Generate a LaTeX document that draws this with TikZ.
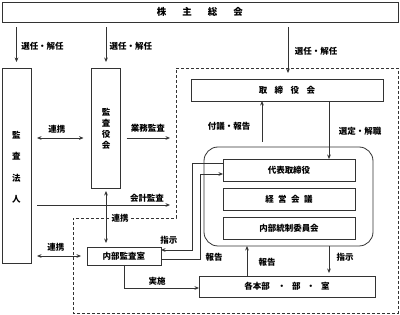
\documentclass[tikz,border=0pt]{standalone}
\usepackage{fontspec}
\setmainfont{Noto Sans CJK JP}
\usetikzlibrary{arrows.meta}
\definecolor{linec}{HTML}{333333}
\begin{document}
\begin{tikzpicture}[x=1pt,y=-1pt,
  font=\fontsize{8.5}{10}\selectfont\bfseries,
  every node/.style={inner sep=0pt, outer sep=0pt},
  box/.style={draw=linec, line width=0.8pt, fill=white},
  lbl/.style={text=black},
  arr/.style={draw=linec, line width=0.8pt, -{Stealth[length=4.5pt,width=3.8pt]}},
  dblarr/.style={draw=linec, line width=0.8pt, {Stealth[length=4.5pt,width=3.8pt]}-{Stealth[length=4.5pt,width=3.8pt]}},
  plain/.style={draw=linec, line width=0.8pt},
  dashbox/.style={draw=linec, line width=0.7pt, dash pattern=on 3pt off 2pt}]
\useasboundingbox (0,0) rectangle (400,315);

% dashed region
\draw[dashbox] (176,68) -- (398,68) -- (398,313) -- (73,313) -- (73,218) -- (176,218) -- cycle;

% boxes
\node[box, minimum width=396pt, minimum height=20pt, font=\fontsize{9.5}{11}\selectfont\bfseries] (agm) at (200,12) {株\hspace{16pt}主\hspace{16pt}総\hspace{16pt}会};
\node[box, minimum width=29pt, minimum height=195pt] (firm) at (16.5,165.5) {};
\node[align=center, font=\fontsize{8.5}{21.5}\selectfont\bfseries] (firmtxt) at (16.5,167) {監\\査\\法\\人};
\node[box, minimum width=29pt, minimum height=120pt] (kansa) at (106,128) {};
\node[align=center, font=\fontsize{8.5}{11}\selectfont\bfseries] (kansatxt) at (106,129) {監\\査\\役\\会};
\node[box, minimum width=192pt, minimum height=22pt] (brd) at (287,90) {取\hspace{7.5pt}締\hspace{7.5pt}役\hspace{7.5pt}会};
\node[box, rounded corners=14pt, minimum width=169pt, minimum height=99pt] (grp) at (288.5,196.5) {};
\node[box, minimum width=132pt, minimum height=22pt] (rep) at (289,170) {代表取締役};
\node[box, minimum width=132pt, minimum height=22pt] (mgmt) at (289,199) {経\hspace{4.5pt}営\hspace{4.5pt}会\hspace{4.5pt}議};
\node[box, minimum width=132pt, minimum height=22pt] (icc) at (289,228) {内部統制委員会};
\node[box, minimum width=74pt, minimum height=18pt] (ias) at (124,256) {内部監査室};
\node[box, minimum width=176pt, minimum height=21pt] (div) at (287,286.5) {各本部\hspace{8pt}・\hspace{6pt}部\hspace{6pt}・\hspace{6pt}室};

% shareholders arrows
\draw[arr, shorten <=5pt, shorten >=6pt] (agm.south -| firm.north) -- (firm.north);
\node[lbl] (l1) at (42.5,46) {選任・解任};
\draw[arr, shorten <=5pt, shorten >=6pt] (agm.south -| kansa.north) -- (kansa.north);
\node[lbl] (l2) at (131,46) {選任・解任};
\coordinate (bin) at (288,73);
\draw[arr, shorten <=5pt] (agm.south -| bin) -- (bin);
\node[lbl] (l3) at (316,51) {選任・解任};

% firm <-> kansa
\draw[dblarr, shorten <=6pt, shorten >=8pt] (firm.east |- 0,138) -- (kansa.west |- 0,138);
\node[lbl] (l4) at (57,129) {連携};
\coordinate (gyo) at (170,138);
\draw[arr, shorten <=6pt] (kansa.east |- gyo) -- (gyo);
\node[lbl] (l5) at (148,128) {業務監査};
\coordinate (kai) at (170,205);
\draw[arr, shorten <=6pt] (firm.east |- kai) -- (kai);
\node[lbl] (l6) at (147,198) {会計監査};

% kansa <-> ias
\draw[dblarr, shorten <=3pt, shorten >=4pt] (kansa.south) -- (kansa.south |- ias.north);
\node[lbl, fill=white, inner xsep=1.5pt] (l7) at (120,218) {連携};

% firm <-> ias
\draw[dblarr, shorten <=6pt, shorten >=6pt] (firm.east |- ias.west) -- (ias.west);
\node[lbl] (l8) at (56,247) {連携};

% ias -> div
\draw[arr] (ias.south) -- (ias.south |- 0,288) -- (div.west |- 0,288);
\node[lbl] (l9) at (157,281) {実施};

% rep -> ias (指示)
\draw[arr] (rep.west |- 0,163) -- (192,163) -- (192,250) -- (ias.east |- 0,250);
\node[lbl] (l10) at (169,240) {指示};
% ias -> rep (報告)
\draw[arr] (ias.east |- 0,259) -- (200,259) -- (200,174) -- (rep.west |- 0,174);
\node[lbl] (l11) at (214,257) {報告};

% grp <-> brd
\draw[arr, shorten <=5pt] (grp.north -| 262,0) -- (brd.south -| 262,0);
\node[lbl] (l12) at (229,126) {付議・報告};
\draw[arr] (brd.south -| 329,0) -- (rep.north -| 329,0);
\node[lbl] (l13) at (360,131) {選定・解職};

% grp <-> div
\draw[arr] (div.north -| 247,0) -- (grp.south -| 247,0);
\node[lbl] (l14) at (267,262) {報告};
\draw[arr, shorten >=3pt] (grp.south -| 329,0) -- (div.north -| 329,0);
\node[lbl] (l15) at (345,257) {指示};
\end{tikzpicture}
\end{document}
